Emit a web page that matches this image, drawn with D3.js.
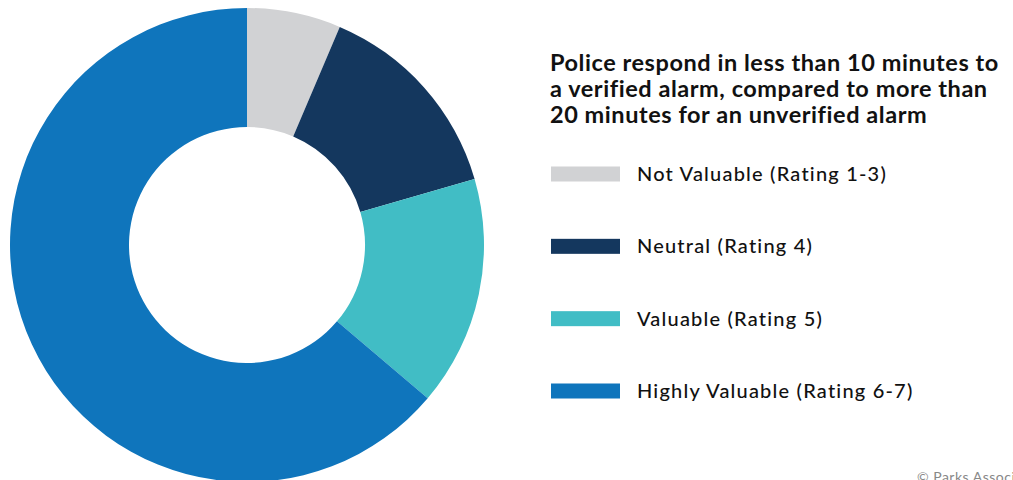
<!DOCTYPE html>
<html>
<head>
<meta charset="utf-8">
<script src="https://cdn.jsdelivr.net/npm/d3@7"></script>
<style>
  body { margin: 0; background: #fff; overflow: hidden; }
  svg { display: block; font-family: "Lato", "Noto Sans", sans-serif; }
</style>
</head>
<body>
<svg width="1013" height="480"></svg>
<script>
  // data (share of respondents, %)
  const categories = ["Not Valuable (Rating 1-3)", "Neutral (Rating 4)", "Valuable (Rating 5)", "Highly Valuable (Rating 6-7)"];
  const values = [6.4, 14.1, 15.7, 63.8];
  const colors = ["#D1D2D4", "#14375E", "#41BDC5", "#0F75BC"];
  const titleLines = ["Police respond in less than 10 minutes to", "a verified alarm, compared to more than", "20 minutes for an unverified alarm"];

  const svg = d3.select("svg"),
      width = +svg.attr("width"),
      height = +svg.attr("height");

  const cx = 247, cy = 245, outerR = 237, innerR = 118;

  const pie = d3.pie().sort(null).value(d => d);
  const arc = d3.arc().innerRadius(innerR).outerRadius(outerR);

  svg.append("g")
      .attr("transform", `translate(${cx},${cy})`)
      .selectAll("path")
      .data(pie(values))
      .join("path")
      .attr("d", arc)
      .attr("fill", (d, i) => colors[i]);

  // title
  svg.append("text")
      .attr("x", 550)
      .attr("y", 71)
      .attr("font-size", 23.5)
      .attr("font-weight", 700)
      .attr("letter-spacing", 0.55)
      .attr("fill", "#111")
      .selectAll("tspan")
      .data(titleLines)
      .join("tspan")
      .attr("x", 550)
      .attr("dy", (d, i) => i ? 26 : 0)
      .text(d => d);

  // legend
  const y = d3.scalePoint().domain(categories).range([174, 391]);
  const legend = svg.append("g")
      .selectAll("g")
      .data(categories)
      .join("g")
      .attr("transform", d => `translate(551,${y(d)})`);

  legend.append("rect")
      .attr("x", 0)
      .attr("y", -7.5)
      .attr("width", 69)
      .attr("height", 15)
      .attr("fill", (d, i) => colors[i]);

  legend.append("text")
      .attr("x", 86)
      .attr("y", 0)
      .attr("dy", "0.35em")
      .attr("font-size", 20)
      .attr("font-weight", 500)
      .attr("letter-spacing", 1.2)
      .attr("fill", "#111")
      .text(d => d);

  svg.append("text")
      .attr("x", 917)
      .attr("y", 482)
      .attr("font-size", 14)
      .attr("letter-spacing", 0.5)
      .attr("fill", "#888")
      .text("© Parks Associates");
</script>
</body>
</html>
